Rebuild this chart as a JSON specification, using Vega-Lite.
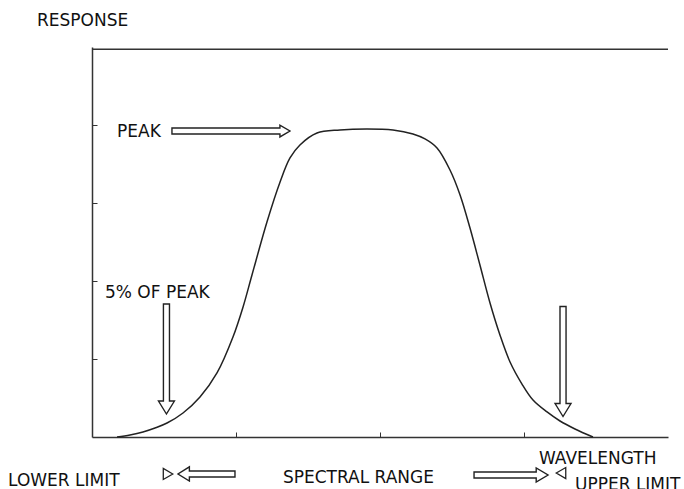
{
  "$schema": "https://vega.github.io/schema/vega-lite/v6.json",
  "width": 576,
  "height": 390,
  "autosize": "none",
  "padding": {"left": 92, "top": 47, "right": 16, "bottom": 52},
  "background": "white",
  "config": {
    "view": {"stroke": null},
    "text": {"font": "DejaVu Sans", "fontSize": 17, "color": "#111"}
  },
  "datasets": {
    "curve": [
      {"wavelength": 0.174, "response": 0},
      {"wavelength": 0.264, "response": 0.026},
      {"wavelength": 0.354, "response": 0.064},
      {"wavelength": 0.4375, "response": 0.115},
      {"wavelength": 0.521, "response": 0.179},
      {"wavelength": 0.632, "response": 0.308},
      {"wavelength": 0.75, "response": 0.513},
      {"wavelength": 0.868, "response": 0.821},
      {"wavelength": 0.979, "response": 1.282},
      {"wavelength": 1.049, "response": 1.667},
      {"wavelength": 1.111, "response": 2.077},
      {"wavelength": 1.215, "response": 2.756},
      {"wavelength": 1.306, "response": 3.269},
      {"wavelength": 1.375, "response": 3.577},
      {"wavelength": 1.444, "response": 3.744},
      {"wavelength": 1.5625, "response": 3.897},
      {"wavelength": 1.722, "response": 3.936},
      {"wavelength": 1.91, "response": 3.949},
      {"wavelength": 2.09, "response": 3.936},
      {"wavelength": 2.229, "response": 3.885},
      {"wavelength": 2.3125, "response": 3.821},
      {"wavelength": 2.396, "response": 3.705},
      {"wavelength": 2.486, "response": 3.423},
      {"wavelength": 2.556, "response": 3.103},
      {"wavelength": 2.625, "response": 2.679},
      {"wavelength": 2.694, "response": 2.205},
      {"wavelength": 2.764, "response": 1.718},
      {"wavelength": 2.833, "response": 1.308},
      {"wavelength": 2.903, "response": 0.962},
      {"wavelength": 2.986, "response": 0.679},
      {"wavelength": 3.0625, "response": 0.474},
      {"wavelength": 3.16, "response": 0.321},
      {"wavelength": 3.25, "response": 0.205},
      {"wavelength": 3.354, "response": 0.103},
      {"wavelength": 3.479, "response": 0}
    ],
    "labels": [
      {"text": "RESPONSE", "x": -0.382, "y": 5.269},
      {"text": "PEAK", "x": 0.174, "y": 3.846},
      {"text": "5% OF PEAK", "x": 0.09, "y": 1.782},
      {"text": "WAVELENGTH", "x": 3.104, "y": -0.346},
      {"text": "LOWER LIMIT", "x": -0.583, "y": -0.628},
      {"text": "SPECTRAL RANGE", "x": 1.326, "y": -0.59},
      {"text": "UPPER LIMIT", "x": 3.354, "y": -0.679}
    ],
    "arrows": [
      {"note": "peak", "x": 0.965, "y": 3.923},
      {"note": "lower 5%", "x": 0.517, "y": 1.0},
      {"note": "upper 5%", "x": 3.271, "y": 0.968},
      {"note": "to lower", "x": 0.795, "y": -0.474},
      {"note": "to upper", "x": 2.91, "y": -0.487},
      {"note": "lower mark", "x": 0.528, "y": -0.474},
      {"note": "upper mark", "x": 3.257, "y": -0.462}
    ],
    "frame": [
      {"x": 0, "x2": 4, "y": 4.97}
    ]
  },
  "layer": [
    {
      "data": {"name": "curve"},
      "mark": {"type": "line", "interpolate": "catmull-rom", "color": "#222", "strokeWidth": 1.5},
      "encoding": {
        "x": {
          "field": "wavelength", "type": "quantitative",
          "scale": {"domain": [0, 4], "nice": false, "zero": false},
          "axis": {"values": [1, 2, 3], "labels": false, "title": null, "grid": false, "tickSize": -5, "tickColor": "#333", "tickWidth": 1, "domainColor": "#333", "domainWidth": 1.5}
        },
        "y": {
          "field": "response", "type": "quantitative",
          "scale": {"domain": [0, 5], "nice": false},
          "axis": {"values": [1, 2, 3, 4], "labels": false, "title": null, "grid": false, "tickSize": -5, "tickColor": "#333", "tickWidth": 1, "domainColor": "#333", "domainWidth": 1.5}
        }
      }
    },
    {
      "data": {"name": "frame"},
      "mark": {"type": "rule", "color": "#333", "strokeWidth": 1.5},
      "encoding": {
        "x": {"field": "x", "type": "quantitative", "title": null},
        "x2": {"field": "x2"},
        "y": {"field": "y", "type": "quantitative", "title": null}
      }
    },
    {
      "data": {"name": "labels"},
      "mark": {"type": "text", "align": "left", "baseline": "alphabetic"},
      "encoding": {
        "x": {"field": "x", "type": "quantitative", "title": null},
        "y": {"field": "y", "type": "quantitative", "title": null},
        "text": {"field": "text"}
      }
    },
    {
      "data": {"name": "arrows"},
      "transform": [{"filter": "datum.note === 'peak'"}],
      "mark": {"type": "point", "filled": true, "fill": "white", "stroke": "#222", "strokeWidth": 1.4, "opacity": 1, "size": 13924,
        "shape": "M-1,-0.05L0.83,-0.05L0.83,-0.1L1,0L0.83,0.1L0.83,0.05L-1,0.05Z"},
      "encoding": {
        "x": {"field": "x", "type": "quantitative", "title": null},
        "y": {"field": "y", "type": "quantitative", "title": null}
      }
    },
    {
      "data": {"name": "arrows"},
      "transform": [{"filter": "datum.note === 'lower 5%' || datum.note === 'upper 5%'"}],
      "mark": {"type": "point", "filled": true, "fill": "white", "stroke": "#222", "strokeWidth": 1.4, "opacity": 1, "size": 12100,
        "shape": "M-0.055,-1L0.055,-1L0.055,0.764L0.145,0.764L0,1L-0.145,0.764L-0.055,0.764Z"},
      "encoding": {
        "x": {"field": "x", "type": "quantitative", "title": null},
        "y": {"field": "y", "type": "quantitative", "title": null}
      }
    },
    {
      "data": {"name": "arrows"},
      "transform": [{"filter": "datum.note === 'to lower'"}],
      "mark": {"type": "point", "filled": true, "fill": "white", "stroke": "#222", "strokeWidth": 1.4, "opacity": 1, "size": 3249,
        "shape": "M1,-0.105L-0.6,-0.105L-0.6,-0.25L-1,0L-0.6,0.25L-0.6,0.105L1,0.105Z"},
      "encoding": {
        "x": {"field": "x", "type": "quantitative", "title": null},
        "y": {"field": "y", "type": "quantitative", "title": null}
      }
    },
    {
      "data": {"name": "arrows"},
      "transform": [{"filter": "datum.note === 'to upper'"}],
      "mark": {"type": "point", "filled": true, "fill": "white", "stroke": "#222", "strokeWidth": 1.4, "opacity": 1, "size": 5476,
        "shape": "M-1,-0.08L0.68,-0.08L0.68,-0.19L1,0L0.68,0.19L0.68,0.08L-1,0.08Z"},
      "encoding": {
        "x": {"field": "x", "type": "quantitative", "title": null},
        "y": {"field": "y", "type": "quantitative", "title": null}
      }
    },
    {
      "data": {"name": "arrows"},
      "transform": [{"filter": "datum.note === 'lower mark'"}],
      "mark": {"type": "point", "filled": true, "fill": "white", "stroke": "#222", "strokeWidth": 1.3, "opacity": 1, "size": 120, "shape": "triangle-right"},
      "encoding": {
        "x": {"field": "x", "type": "quantitative", "title": null},
        "y": {"field": "y", "type": "quantitative", "title": null}
      }
    },
    {
      "data": {"name": "arrows"},
      "transform": [{"filter": "datum.note === 'upper mark'"}],
      "mark": {"type": "point", "filled": true, "fill": "white", "stroke": "#222", "strokeWidth": 1.3, "opacity": 1, "size": 120, "shape": "triangle-left"},
      "encoding": {
        "x": {"field": "x", "type": "quantitative", "title": null},
        "y": {"field": "y", "type": "quantitative", "title": null}
      }
    }
  ]
}
